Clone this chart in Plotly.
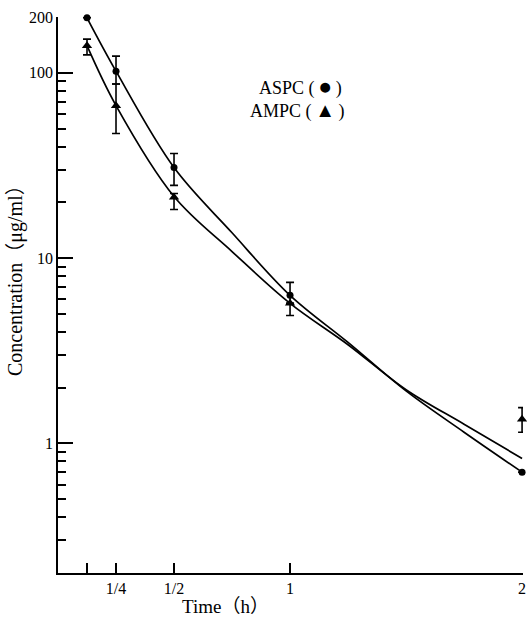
import numpy as np
import plotly.graph_objects as go

# ---- data ----
# measured points (time in h, concentration in ug/ml)
aspc_t = [0.125, 0.25, 0.5, 1.0, 2.0]
aspc_c = [198, 102, 30.8, 6.3, 0.70]
aspc_err_up = [0, 21, 5.9, 1.1, 0]
aspc_err_dn = [0, 15, 6.1, 0.6, 0]

ampc_t = [0.125, 0.25, 0.5, 1.0, 2.0]
ampc_c = [140, 66.5, 21.3, 5.7, 1.35]
ampc_err_up = [12, 20.5, 1.0, 0, 0.21]
ampc_err_dn = [15, 19.5, 3.0, 0.8, 0.20]

# fitted curves
curve_t = [0.125, 0.25, 0.5, 0.75, 1.0, 1.25, 1.5, 1.75, 2.0]
aspc_curve_c = [198, 102, 30.8, 13.7, 6.3, 3.51, 1.92, 1.15, 0.70]
ampc_curve_c = [140, 66.5, 21.5, 10.85, 5.7, 3.41, 1.95, 1.27, 0.83]

x_tickvals = [0.125, 0.25, 0.5, 1, 2]
x_ticktext = ["", "1/4", "1/2", "1", "2"]
y_tickvals = [1, 10, 100, 200]
y_ticktext = ["1", "10", "100", "200"]
y_minor = [0.3, 0.4, 0.5, 0.6, 0.7, 0.8, 0.9,
           2, 3, 4, 5, 6, 7, 8, 9,
           20, 30, 40, 50, 60, 70, 80, 90]

W, H = 527, 624
ML, MR, MT, MB = 58, 4, 17, 51
PW, PH = W - ML - MR, H - MT - MB


def px(xp):
    return (xp - ML) / PW


def py(yp):
    return (H - MB - yp) / PH


FONT = "Liberation Serif, Times New Roman, serif"
FONT_CJK = "Liberation Serif, Noto Sans CJK JP, serif"

fig = go.Figure()

for cc in (aspc_curve_c, ampc_curve_c):
    fig.add_trace(go.Scatter(
        x=curve_t, y=cc, mode="lines",
        line=dict(color="black", width=1.7, shape="spline", smoothing=1.0),
        cliponaxis=False, showlegend=False))

fig.add_trace(go.Scatter(
    x=aspc_t, y=aspc_c, mode="markers",
    marker=dict(symbol="circle", size=7, color="black"),
    error_y=dict(type="data", symmetric=False, array=aspc_err_up,
                 arrayminus=aspc_err_dn, color="black", thickness=1.6, width=4),
    cliponaxis=False, showlegend=False))
fig.add_trace(go.Scatter(
    x=ampc_t, y=ampc_c, mode="markers",
    marker=dict(symbol="triangle-up", size=9, color="black"),
    error_y=dict(type="data", symmetric=False, array=ampc_err_up,
                 arrayminus=ampc_err_dn, color="black", thickness=1.6, width=4),
    cliponaxis=False, showlegend=False))

fig.update_layout(
    width=W, height=H,
    margin=dict(l=ML, r=MR, t=MT, b=MB, autoexpand=False),
    paper_bgcolor="white", plot_bgcolor="white",
    font=dict(family=FONT, color="black", size=16),
    xaxis=dict(range=[0, 2.004], showgrid=False, zeroline=False,
               automargin=False, ticklabeloverflow="allow",
               showline=True, linecolor="black", linewidth=1.6,
               tickvals=x_tickvals, ticktext=x_ticktext,
               ticks="inside", ticklen=10, tickwidth=1.5, tickcolor="black",
               tickfont=dict(size=16, family=FONT)),
    yaxis=dict(type="log", range=[np.log10(0.2), np.log10(200)],
               showgrid=False, zeroline=False, automargin=False,
               showline=True, linecolor="black", linewidth=1.6,
               tickvals=y_tickvals, ticktext=y_ticktext,
               ticks="inside", ticklen=15, tickwidth=1.5, tickcolor="black",
               tickfont=dict(size=16, family=FONT),
               minor=dict(tickvals=y_minor, ticks="inside", ticklen=8,
                          tickwidth=1.5, tickcolor="black", showgrid=False)),
    annotations=[
        dict(text="Concentration（μg/ml）", xref="paper", yref="paper",
             x=px(15), y=py(276), textangle=-90, showarrow=False,
             xanchor="center", yanchor="middle",
             font=dict(size=20, family=FONT_CJK)),
        dict(text="Time（h）", xref="paper", yref="paper",
             x=px(225), y=py(606), showarrow=False,
             xanchor="center", yanchor="middle",
             font=dict(size=19, family=FONT_CJK)),
        dict(text="ASPC (\u2009<span style='font-size:23px'>●</span>\u2009)",
             xref="paper", yref="paper",
             x=px(300), y=py(86), showarrow=False,
             xanchor="center", yanchor="middle",
             font=dict(size=18, family=FONT)),
        dict(text="AMPC (\u2009<span style='font-size:20px'>▲</span>\u2009)",
             xref="paper", yref="paper",
             x=px(297), y=py(111), showarrow=False,
             xanchor="center", yanchor="middle",
             font=dict(size=18, family=FONT)),
    ],
)

fig.write_html(
    "out.html",
    config={"displayModeBar": False},
    post_script="document.body.style.margin='0';document.body.style.overflow='hidden';",
)
